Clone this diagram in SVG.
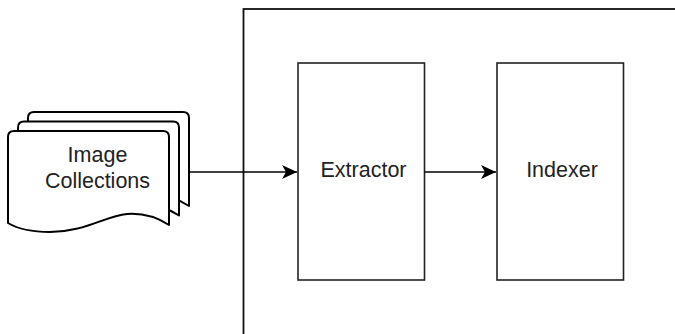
<svg xmlns="http://www.w3.org/2000/svg" width="675" height="334" viewBox="0 0 675 334">
  <defs>
    <style>
      .page { fill: #ffffff; stroke: #000000; stroke-width: 2; stroke-linejoin: round; }
      .box { fill: #ffffff; stroke: #222222; stroke-width: 1.6; }
      .container { fill: #ffffff; stroke: #111111; stroke-width: 1.8; }
      .label { font-family: "Liberation Sans", Arial, sans-serif; font-size: 21.5px; fill: #222222; text-anchor: middle; }
      .edge { fill: none; stroke: #000000; stroke-width: 1.4; }
    </style>
    <path id="pageShape" d="M8,223 L8,137 Q8,131 14,131 L163,131 Q169,131 169,137 L169,225 C155,216 140,213 127,214 C105,216 85,232 50,232 C32,232 18,229 8,223 Z"/>
    <marker id="arrow" markerUnits="userSpaceOnUse" markerWidth="16" markerHeight="14" refX="15" refY="7" orient="auto">
      <path d="M0,0 L15,7 L0,14 L4,7 Z" fill="#000000"/>
    </marker>
  </defs>
  <rect width="675" height="334" fill="#ffffff"/>

  <g id="container">
    <rect class="container" x="243.5" y="9" width="440" height="340"/>
  </g>

  <g id="image-collections">
    <use href="#pageShape" class="page" transform="translate(20,-19)"/>
    <use href="#pageShape" class="page" transform="translate(10,-9.5)"/>
    <use href="#pageShape" class="page"/>
    <text class="label" x="97.5" y="162">Image</text>
    <text class="label" x="97.5" y="188">Collections</text>
  </g>

  <g id="extractor">
    <rect class="box" x="298" y="63" width="126.5" height="217"/>
    <text class="label" x="363.5" y="177">Extractor</text>
  </g>

  <g id="indexer">
    <rect class="box" x="497" y="63" width="126.5" height="217"/>
    <text class="label" x="562" y="177">Indexer</text>
  </g>

  <g id="connectors">
    <line class="edge" x1="189" y1="172" x2="297" y2="172" marker-end="url(#arrow)"/>
    <line class="edge" x1="424.5" y1="172" x2="496" y2="172" marker-end="url(#arrow)"/>
  </g>
</svg>
